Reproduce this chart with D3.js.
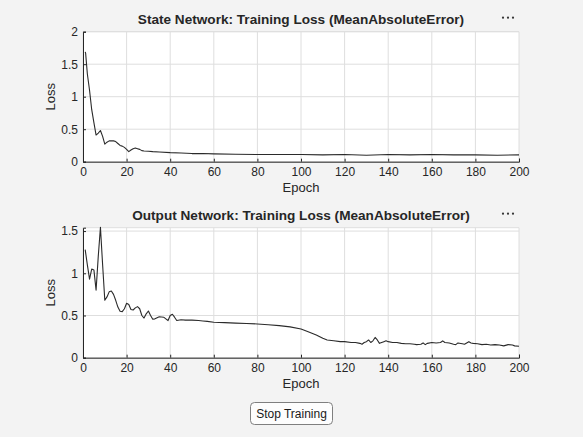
<!DOCTYPE html>
<html>
<head>
<meta charset="utf-8">
<script src="https://cdn.jsdelivr.net/npm/d3@7"></script>
<style>
  body { margin: 0; background: #f3f3f3; }
  svg { display: block; font-family: "Liberation Sans", Arial, sans-serif; }
</style>
</head>
<body>
<script>
// Values (epoch, loss)
var stateEpochs = [1, 1.2, 2, 3, 4, 5, 6, 7, 8, 9, 10, 11, 12, 13, 14, 15, 16, 17, 18, 19, 20, 21, 22, 23, 24, 25, 26, 27, 28, 30, 32, 35, 40, 45, 50, 55, 60, 70, 80, 90, 100, 110, 120, 130, 140, 150, 160, 170, 180, 190, 200];
var stateLoss = [1.69, 1.67, 1.35, 1.1, 0.8, 0.6, 0.41, 0.44, 0.48, 0.39, 0.27, 0.3, 0.32, 0.32, 0.32, 0.31, 0.28, 0.25, 0.24, 0.22, 0.19, 0.155, 0.18, 0.2, 0.21, 0.2, 0.19, 0.17, 0.165, 0.16, 0.155, 0.15, 0.14, 0.135, 0.125, 0.125, 0.12, 0.115, 0.11, 0.11, 0.11, 0.105, 0.11, 0.1, 0.11, 0.105, 0.11, 0.105, 0.105, 0.1, 0.105];

var outputEpochs = [1, 2, 3, 4, 5, 6, 7, 8, 9, 10, 11, 12, 13, 14, 15, 16, 17, 18, 19, 20, 21, 22, 23, 24, 25, 26, 27, 28, 29, 30, 31, 32, 33, 35, 37, 38, 39, 40, 41, 42, 43, 45, 47, 50, 53, 55, 57, 60, 65, 70, 75, 80, 85, 90, 95, 100, 103, 105, 107, 110, 112, 115, 118, 120, 123, 125, 127, 128, 129, 130, 131, 132, 133, 134, 135, 136, 137, 138, 139, 140, 142, 144, 146, 148, 150, 152, 153, 155, 156, 157, 158, 160, 162, 164, 165, 166, 168, 170, 171, 172, 174, 175, 177, 178, 179, 181, 183, 185, 187, 189, 191, 193, 195, 197, 198, 200];
var outputLoss = [1.28, 1.1, 0.93, 1.05, 1.04, 0.8, 1.2, 1.545, 1.1, 0.68, 0.72, 0.78, 0.79, 0.75, 0.68, 0.6, 0.55, 0.545, 0.58, 0.645, 0.63, 0.57, 0.565, 0.59, 0.605, 0.58, 0.5, 0.47, 0.52, 0.553, 0.5, 0.455, 0.46, 0.485, 0.48, 0.46, 0.44, 0.5, 0.515, 0.48, 0.44, 0.45, 0.445, 0.445, 0.44, 0.435, 0.43, 0.42, 0.415, 0.41, 0.405, 0.4, 0.39, 0.38, 0.365, 0.34, 0.31, 0.29, 0.27, 0.23, 0.21, 0.2, 0.19, 0.19, 0.18, 0.18, 0.17, 0.16, 0.18, 0.19, 0.21, 0.18, 0.2, 0.24, 0.21, 0.17, 0.18, 0.19, 0.2, 0.19, 0.18, 0.18, 0.17, 0.165, 0.165, 0.16, 0.155, 0.16, 0.175, 0.155, 0.17, 0.18, 0.175, 0.18, 0.2, 0.18, 0.175, 0.16, 0.155, 0.175, 0.165, 0.16, 0.19, 0.175, 0.17, 0.165, 0.155, 0.16, 0.15, 0.155, 0.15, 0.14, 0.155, 0.15, 0.14, 0.135];

var xTicks = [0, 20, 40, 60, 80, 100, 120, 140, 160, 180, 200];
var stateYTicks = [0, 0.5, 1, 1.5, 2];
var outputYTicks = [0, 0.5, 1, 1.5];

var svgWidth = 583;
var svgHeight = 437;

var svg = d3.select("body")
  .append("svg")
  .attr("width", svgWidth)
  .attr("height", svgHeight);

svg.append("rect")
  .attr("width", svgWidth)
  .attr("height", svgHeight)
  .attr("fill", "#f3f3f3");

function drawPanel(opts) {
  var x = d3.scaleLinear().domain([0, 200]).range([83, 519]);
  var y = d3.scaleLinear().domain(opts.yDomain).range([opts.bottom, opts.top]);
  var g = svg.append("g");

  // plot area
  g.append("rect")
    .attr("x", x(0))
    .attr("y", opts.top)
    .attr("width", x(200) - x(0))
    .attr("height", opts.bottom - opts.top)
    .attr("fill", "#ffffff");

  // grid
  g.selectAll(".vgrid")
    .data(xTicks)
    .join("line")
    .attr("x1", d => x(d)).attr("x2", d => x(d))
    .attr("y1", opts.top).attr("y2", opts.bottom)
    .attr("stroke", "#dedede")
    .attr("stroke-width", 1);
  g.selectAll(".hgrid")
    .data(opts.yTicks.concat([opts.yDomain[1]]))
    .join("line")
    .attr("x1", x(0)).attr("x2", x(200))
    .attr("y1", d => y(d)).attr("y2", d => y(d))
    .attr("stroke", "#dedede")
    .attr("stroke-width", 1);

  // line
  var drawLine = d3.line()
    .x(d => x(d[0]))
    .y(d => y(d[1]));
  g.append("path")
    .attr("d", drawLine(d3.zip(opts.epochs, opts.loss)))
    .attr("fill", "none")
    .attr("stroke", "#2b2b2b")
    .attr("stroke-width", 1.1)
    .attr("stroke-linejoin", "round");

  // axes
  var bottomAxis = d3.axisBottom(x).tickValues(xTicks).tickSize(-3).tickPadding(6).tickFormat(d3.format("d"));
  var leftAxis = d3.axisLeft(y).tickValues(opts.yTicks).tickSize(-3).tickPadding(5).tickFormat(d => String(d));

  var gx = g.append("g")
    .attr("transform", `translate(0, ${opts.bottom})`)
    .call(bottomAxis);
  var gy = g.append("g")
    .attr("transform", `translate(${x(0)}, 0)`)
    .call(leftAxis);
  [gx, gy].forEach(a => {
    a.selectAll("path").attr("stroke", "#262626");
    a.selectAll("line").attr("stroke", "#262626");
    a.selectAll("text").attr("fill", "#262626").style("font-size", "12px").style("font-family", "Liberation Sans, Arial, sans-serif");
  });

  // labels
  g.append("text")
    .attr("x", 301)
    .attr("y", opts.bottom + 30)
    .attr("text-anchor", "middle")
    .attr("fill", "#262626")
    .style("font-size", "13px")
    .text("Epoch");
  g.append("text")
    .attr("transform", `translate(55, ${(opts.top + opts.bottom) / 2}) rotate(-90)`)
    .attr("text-anchor", "middle")
    .attr("fill", "#262626")
    .style("font-size", "13px")
    .text("Loss");
  g.append("text")
    .attr("x", opts.titleX)
    .attr("y", opts.top - 7.5)
    .attr("text-anchor", "middle")
    .attr("fill", "#262626")
    .style("font-size", "13.6px")
    .style("font-weight", "bold")
    .text(opts.title);

  // "..." toolbar dots
  g.selectAll(".dot")
    .data([0, 1, 2])
    .join("circle")
    .attr("cx", d => 503 + d * 5)
    .attr("cy", opts.top - 14)
    .attr("r", 1.1)
    .attr("fill", "#333");
}

drawPanel({
  epochs: stateEpochs,
  loss: stateLoss,
  yDomain: [0, 2],
  yTicks: stateYTicks,
  top: 31.7,
  bottom: 161.7,
  title: "State Network: Training Loss (MeanAbsoluteError)",
  titleX: 301
});

drawPanel({
  epochs: outputEpochs,
  loss: outputLoss,
  yDomain: [0, 1.54],
  yTicks: outputYTicks,
  top: 227.7,
  bottom: 357.7,
  title: "Output Network: Training Loss (MeanAbsoluteError)",
  titleX: 301
});

// Stop Training button
var btn = svg.append("g");
btn.append("rect")
  .attr("x", 250.5)
  .attr("y", 402.5)
  .attr("width", 82)
  .attr("height", 22)
  .attr("rx", 4)
  .attr("fill", "#fdfdfd")
  .attr("stroke", "#7f7f7f");
btn.append("text")
  .attr("x", 291.5)
  .attr("y", 418)
  .attr("text-anchor", "middle")
  .attr("fill", "#1a1a1a")
  .style("font-size", "12px")
  .text("Stop Training");
</script>
</body>
</html>
